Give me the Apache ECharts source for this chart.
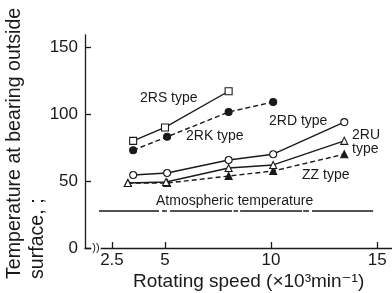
<!DOCTYPE html>
<html>
<head>
<meta charset="utf-8">
<script src="https://cdn.jsdelivr.net/npm/echarts@6/dist/echarts.min.js"></script>
<style>
    html, body { margin: 0; padding: 0; background: #fff; }
    #chart { width: 392px; height: 293px; }
</style>
</head>
<body>
<div id="chart"></div>
<script>
/* ===========================
   Data
=========================== */

const xTicks = [2.5, 5, 10, 15];
const yTicks = [0, 50, 100, 150];

const rsSpeed = [3.5, 5, 8];
const rsTemp = [80, 90, 117];

const rkSpeed = [3.5, 5.1, 8, 10.1];
const rkTemp = [73, 83, 101.5, 109];

const rdSpeed = [3.5, 5.1, 8, 10.1, 13.45];
const rdTemp = [54.5, 56, 65.7, 70, 94];

const ruSpeed = [3.25, 5.05, 8, 10.1, 13.45];
const ruTemp = [48.5, 49.3, 59.7, 62, 80];

const zzSpeed = [3.25, 5.1, 8, 10.1, 13.45];
const zzTemp = [48.5, 48.5, 53.7, 57.5, 70];

// atmospheric line, drawn in pieces (the original has small breaks)
const atmosStart = [1.89, 4.86, 5.24, 8.23, 8.54, 11.51, 11.93];
const atmosEnd = [4.72, 5.09, 8.16, 8.44, 11.46, 11.79, 14.81];
const atmosTemp = 27.6;

/* ===========================
   Helpers
=========================== */

const FONT = "Liberation Sans, Arial, DejaVu Sans, sans-serif";
const INK = "#1a1a1a";

function pairs(xs, ys) {
    return xs.map((x, i) => [x, ys[i]]);
}

function curve(name, xs, ys, symbol, filled, dashed) {
    return {
        name: name,
        type: "line",
        data: pairs(xs, ys),
        symbol: symbol,
        symbolSize: 7,
        showAllSymbol: true,
        lineStyle: {
            color: INK,
            width: 1.4,
            type: dashed ? [5, 3] : "solid"
        },
        itemStyle: {
            color: filled ? INK : "#fff",
            borderColor: INK,
            borderWidth: 1.1
        },
        emphasis: { disabled: true },
        z: filled ? 3 : 4
    };
}

function atmosData() {
    const out = [];
    atmosStart.forEach((s, i) => {
        out.push([s, atmosTemp]);
        out.push([atmosEnd[i], atmosTemp]);
        out.push(["-", "-"]);
    });
    return out;
}

function label(text, x, y) {
    return {
        type: "text",
        left: x,
        top: y - 9,
        style: {
            text: text,
            font: "14px " + FONT,
            fill: INK
        },
        z: 10
    };
}

/* ===========================
   Chart
=========================== */

const chart = echarts.init(document.getElementById("chart"));

chart.setOption({

    animation: false,

    grid: {
        left: 85,
        right: 0,
        top: 35,
        bottom: 45,
        containLabel: false,
        outerBoundsMode: "none"
    },

    xAxis: {
        type: "value",
        min: 1.23,
        max: 15.7,
        axisLine: { lineStyle: { color: INK, width: 1.3 } },
        axisTick: {
            inside: true,
            length: 6,
            customValues: xTicks,
            lineStyle: { color: INK, width: 1.3 }
        },
        axisLabel: {
            customValues: xTicks,
            color: INK,
            fontSize: 17,
            fontFamily: FONT,
            margin: 4
        },
        splitLine: { show: false }
    },

    yAxis: {
        type: "value",
        min: 0,
        max: 159,
        axisLine: { show: true, lineStyle: { color: INK, width: 1.3 } },
        axisTick: {
            show: true,
            inside: true,
            length: 6,
            customValues: yTicks,
            lineStyle: { color: INK, width: 1.3 }
        },
        axisLabel: {
            customValues: yTicks,
            color: INK,
            fontSize: 17,
            fontFamily: FONT,
            margin: 7
        },
        splitLine: { show: false }
    },

    series: [
        curve("2RS", rsSpeed, rsTemp, "rect", false, false),
        curve("2RK", rkSpeed, rkTemp, "circle", true, true),
        curve("2RD", rdSpeed, rdTemp, "circle", false, false),
        curve("2RU", ruSpeed, ruTemp, "triangle", false, false),
        curve("ZZ", zzSpeed, zzTemp, "triangle", true, true),
        {
            name: "Atmospheric",
            type: "line",
            data: atmosData(),
            symbol: "none",
            connectNulls: false,
            lineStyle: { color: INK, width: 1.4 },
            emphasis: { disabled: true }
        }
    ],

    graphic: [
        label("2RS type", 140, 100),
        label("2RK type", 186, 138),
        label("2RD type", 269, 123),
        label("2RU", 352, 137),
        label("type", 352, 151),
        label("ZZ type", 302, 177),
        label("Atmospheric temperature", 156, 203),
        {
            type: "text",
            x: 3,
            y: 279,
            rotation: Math.PI / 2,
            style: {
                text: "Temperature at bearing outside\nsurface, ;",
                font: "19.6px " + FONT,
                fill: INK,
                align: "left",
                verticalAlign: "top",
                lineHeight: 23
            }
        },
        {
            type: "text",
            left: 133,
            top: 272,
            style: {
                text: "Rotating speed (×10³min⁻¹)",
                font: "19px " + FONT,
                fill: INK
            }
        },
        {
            type: "text",
            x: 96,
            y: 248,
            style: {
                text: "))",
                font: "11px " + FONT,
                fill: INK,
                align: "center",
                verticalAlign: "middle",
                backgroundColor: "#fff",
                padding: [0, 1, 0, 1]
            },
            z: 20
        }
    ]

});
</script>
</body>
</html>
